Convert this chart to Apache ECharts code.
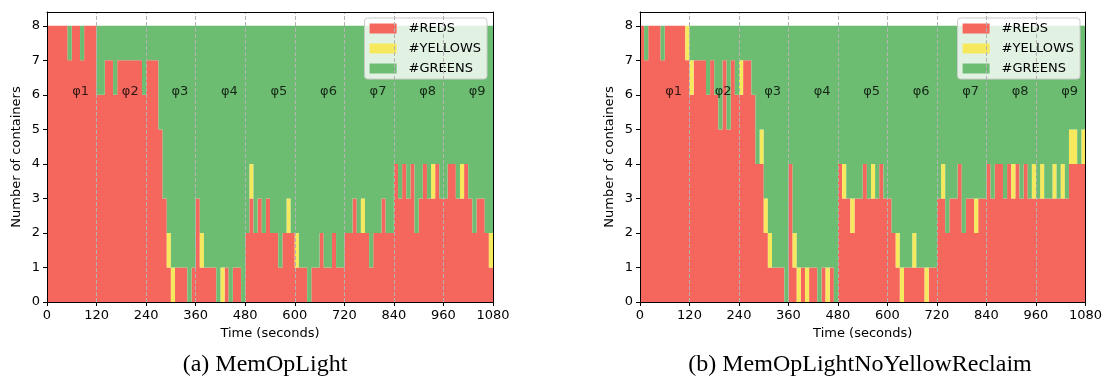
<!DOCTYPE html>
<html>
<head>
<meta charset="utf-8">
<script src="https://cdn.jsdelivr.net/npm/echarts@6.0.0/dist/echarts.min.js"></script>
<style>
  html, body { margin: 0; padding: 0; background: #fff; }
  #chart { width: 1105px; height: 387px; }
</style>
</head>
<body>
<div id="chart"></div>
<script>
// samples are taken every STEP seconds, from t = 0 to t = 1080
const STEP = 10;
const LABEL_EVERY = 12; // 120 s between x tick labels
const yTicks = [0, 1, 2, 3, 4, 5, 6, 7, 8];
const phaseBounds = [120, 240, 360, 480, 600, 720, 840, 960];
const phaseLabels = ['φ1', 'φ2', 'φ3', 'φ4', 'φ5', 'φ6', 'φ7', 'φ8', 'φ9'];
const phaseLabelAt = [60, 180, 300, 420, 540, 660, 780, 900, 1020];
const captions = ['(a) MemOpLight', '(b) MemOpLightNoYellowReclaim'];

// (a) MemOpLight
const redsA = [
  8,8,8,8,8,7,8,8,7,8,8,8,
  6,6,7,7,6,7,7,7,7,7,7,6,
  7,7,7,5,3,1,0,1,1,1,0,1,
  3,1,1,1,1,0,0,1,0,1,1,0,
  2,3,2,3,2,3,2,2,1,2,2,2,
  1,1,1,0,1,1,2,1,1,2,1,1,
  2,2,3,2,2,2,1,2,2,3,2,2,
  4,3,4,3,4,2,3,4,3,3,4,3,
  3,4,4,3,3,4,3,2,3,3,2,1,2
];
const yellowsA = [
  0,0,0,0,0,0,0,0,0,0,0,0,
  0,0,0,0,0,0,0,0,0,0,0,0,
  0,0,0,0,0,1,1,0,0,0,0,0,
  0,1,0,0,0,0,1,0,0,0,0,0,
  0,1,0,0,0,0,0,0,0,0,1,0,
  1,0,0,0,0,0,0,0,0,0,0,0,
  0,0,0,0,1,0,0,0,0,0,0,0,
  0,0,0,0,0,0,0,0,0,1,0,0,
  0,0,0,0,1,0,0,0,0,0,0,1,0
];
const greensA = [
  0,0,0,0,0,1,0,0,1,0,0,0,
  2,2,1,1,2,1,1,1,1,1,1,2,
  1,1,1,3,5,6,7,7,7,7,8,7,
  5,6,7,7,7,8,7,7,8,7,7,8,
  6,4,6,5,6,5,6,6,7,6,5,6,
  6,7,7,8,7,7,6,7,7,6,7,7,
  6,6,5,6,5,6,7,6,6,5,6,6,
  4,5,4,5,4,6,5,4,5,4,4,5,
  5,4,4,5,4,4,5,6,5,5,6,6,6
];

// (b) MemOpLightNoYellowReclaim
const redsB = [
  8,7,8,8,8,7,8,8,8,8,8,7,
  6,7,7,7,6,7,6,5,7,5,7,6,
  6,7,7,6,4,4,2,1,1,1,1,0,
  4,1,0,1,0,1,1,0,1,0,1,0,
  4,3,3,2,3,3,4,3,3,3,4,3,
  3,2,1,0,1,1,1,1,1,0,1,1,
  3,3,2,3,3,4,2,3,3,2,3,3,
  4,3,4,4,3,4,3,4,3,4,3,3,
  3,3,3,3,3,3,3,3,4,4,4,4,4
];
const yellowsB = [
  0,0,0,0,0,0,0,0,0,0,0,1,
  1,0,0,0,0,0,0,0,0,0,0,0,
  1,0,0,0,0,1,1,1,0,0,0,0,
  0,1,1,0,1,0,0,0,0,1,0,0,
  0,1,0,1,0,0,0,0,1,0,0,0,
  0,0,1,1,0,0,1,0,0,1,0,0,
  0,1,0,0,0,0,0,0,0,1,0,0,
  0,0,0,0,0,0,1,0,0,0,0,1,
  0,1,0,0,1,0,1,0,1,1,0,1,1
];
const greensB = [
  0,1,0,0,0,1,0,0,0,0,0,0,
  1,1,1,1,2,1,2,3,1,3,1,2,
  1,1,1,2,4,3,5,6,7,7,7,8,
  4,6,7,7,7,7,7,8,7,7,7,8,
  4,4,5,5,5,5,4,5,4,5,4,5,
  5,6,6,7,7,7,6,7,7,7,7,7,
  5,4,6,5,5,4,6,5,5,5,5,5,
  4,5,4,4,5,4,4,4,5,4,5,4,
  5,4,5,5,4,5,4,5,3,3,4,3,3
];

const times = redsA.map((v, i) => String(i * STEP));

const RED = '#f5675c';
const YELLOW = '#f6e95d';
const GREEN = '#6cbd72';
const FONT = 'DejaVu Sans';

const grids = [
  { left: 47, top: 12, width: 446, height: 290 },
  { left: 640, top: 12, width: 447, height: 290 }
];
const captionX = [265, 860];

function areaSeries(name, color, vals, p, extra) {
  return Object.assign({
    name: name,
    type: 'line',
    xAxisIndex: p,
    yAxisIndex: p,
    stack: 'containers' + p,
    step: 'end',
    symbol: 'none',
    lineStyle: { width: 0, opacity: 0 },
    itemStyle: { color: color },
    areaStyle: { color: color, opacity: 1 },
    emphasis: { disabled: true },
    data: vals
  }, extra || {});
}

function panelSeries(p, reds, yellows, greens) {
  return [
    areaSeries('#REDS', RED, reds, p),
    areaSeries('#YELLOWS', YELLOW, yellows, p),
    areaSeries('#GREENS', GREEN, greens, p, {
      markLine: {
        silent: true,
        symbol: 'none',
        label: { show: false },
        lineStyle: { color: '#b3b3b3', type: [4, 2], width: 1 },
        data: phaseBounds.map(x => ({ xAxis: String(x) }))
      }
    }),
    {
      type: 'scatter',
      xAxisIndex: p,
      yAxisIndex: p,
      symbolSize: 1,
      itemStyle: { color: 'rgba(0,0,0,0)' },
      silent: true,
      z: 5,
      label: {
        show: true,
        position: 'right',
        distance: 0,
        formatter: d => phaseLabels[d.dataIndex],
        color: '#000',
        fontFamily: FONT,
        fontSize: 13
      },
      data: phaseLabelAt.map(x => [String(x), 6.1])
    }
  ];
}

const xAxes = [];
const yAxes = [];
grids.forEach((g, p) => {
  xAxes.push({
    type: 'category', gridIndex: p, data: times, boundaryGap: false, z: 10,
    name: 'Time (seconds)', nameLocation: 'middle', nameGap: 24,
    nameTextStyle: { fontFamily: FONT, fontSize: 13, color: '#000' },
    axisLine: { lineStyle: { color: '#000', width: 1 } },
    axisTick: { show: true, inside: false, length: 4, interval: LABEL_EVERY - 1, lineStyle: { color: '#000' } },
    axisLabel: { interval: LABEL_EVERY - 1, margin: 7, fontFamily: FONT, fontSize: 13, color: '#000', showMaxLabel: true },
    splitLine: { show: false }
  });
  yAxes.push({
    type: 'value', gridIndex: p, min: 0, max: 8.4, z: 10,
    name: 'Number of containers', nameLocation: 'middle', nameGap: 24,
    nameTextStyle: { fontFamily: FONT, fontSize: 13, color: '#000' },
    axisLine: { lineStyle: { color: '#000', width: 1 } },
    axisTick: { show: true, inside: false, length: 4, customValues: yTicks, lineStyle: { color: '#000' } },
    axisLabel: { customValues: yTicks, margin: 7, fontFamily: FONT, fontSize: 13, color: '#000' },
    splitLine: { show: false }
  });
});
// frame lines on the top and right of each panel
grids.forEach((g, p) => {
  xAxes.push({
    type: 'value', gridIndex: p, min: 0, max: 1, position: 'top', z: 10,
    axisLine: { onZero: false, lineStyle: { color: '#000', width: 1 } },
    axisTick: { show: false }, axisLabel: { show: false }, splitLine: { show: false }
  });
  yAxes.push({
    type: 'value', gridIndex: p, min: 0, max: 8.4, position: 'right', z: 10,
    axisLine: { onZero: false, lineStyle: { color: '#000', width: 1 } },
    axisTick: { show: false }, axisLabel: { show: false }, splitLine: { show: false }
  });
});

function legendAt(right) {
  return {
    orient: 'vertical',
    right: right,
    top: 18,
    data: ['#REDS', '#YELLOWS', '#GREENS'],
    icon: 'rect',
    itemWidth: 27,
    itemHeight: 10,
    itemGap: 5,
    padding: [3, 6, 3, 5],
    backgroundColor: 'rgba(255,255,255,0.8)',
    borderColor: '#cccccc',
    borderWidth: 1,
    borderRadius: 3,
    selectedMode: false,
    textStyle: { fontFamily: FONT, fontSize: 13, color: '#000', lineHeight: 15, padding: [0, 0, 0, 7] }
  };
}

const chart = echarts.init(document.getElementById('chart'), null, { renderer: 'canvas' });
chart.setOption({
  animation: false,
  backgroundColor: '#fff',
  textStyle: { fontFamily: FONT },
  graphic: captions.map((c, p) => ({
    type: 'text',
    x: captionX[p],
    y: 365,
    silent: true,
    style: {
      text: c,
      align: 'center',
      verticalAlign: 'middle',
      fontFamily: 'Liberation Serif',
      fontSize: 24,
      fill: '#000'
    }
  })),
  legend: [legendAt(1105 - 487), legendAt(1105 - 1080)],
  grid: grids,
  xAxis: xAxes,
  yAxis: yAxes,
  series: panelSeries(0, redsA, yellowsA, greensA).concat(panelSeries(1, redsB, yellowsB, greensB))
});
</script>
</body>
</html>
